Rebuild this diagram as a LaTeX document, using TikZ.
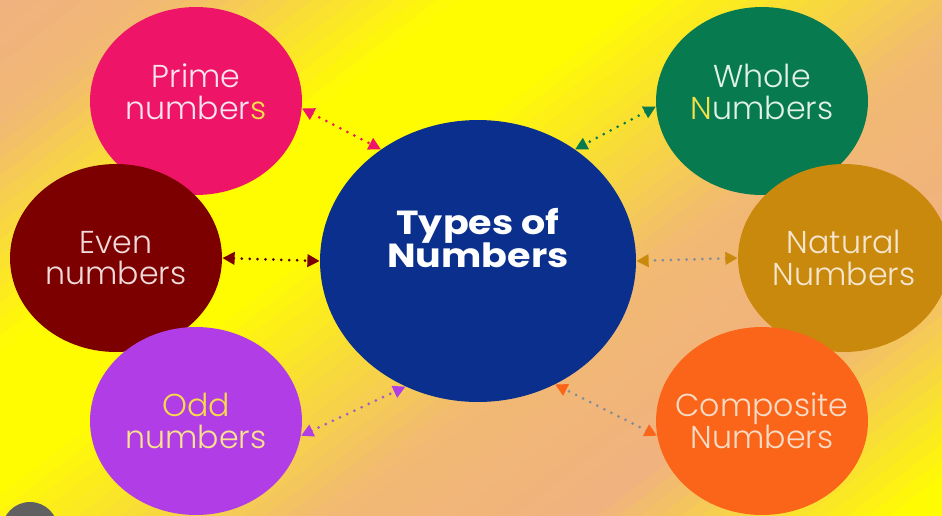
\documentclass[tikz,border=0pt]{standalone}
\usepackage[dvipsnames]{xcolor}
\usepackage{fontspec}
\setmainfont{Poppins}[UprightFont=* Light, BoldFont=* Bold]
\newfontfamily\hubfont{Poppins}[UprightFont=* Bold, FakeStretch=1.14]
\usetikzlibrary{shapes.geometric, arrows.meta}

\definecolor{peachc}{HTML}{F0B27F}
\definecolor{yellowc}{HTML}{FFFC02}
\definecolor{hubc}{HTML}{0B2F8C}
\definecolor{pinkc}{HTML}{EE1569}
\definecolor{maroonc}{HTML}{7D0000}
\definecolor{purplec}{HTML}{B03DE6}
\definecolor{greenc}{HTML}{077A4F}
\definecolor{goldc}{HTML}{C8890C}
\definecolor{orangec}{HTML}{FB6519}
\definecolor{slatec}{HTML}{7F8C9C}
\definecolor{primet}{HTML}{F7E6EE}
\definecolor{event}{HTML}{EFDCDA}
\definecolor{oddt}{HTML}{F9DC4A}
\definecolor{oddn}{HTML}{FCE38E}
\definecolor{wholet}{HTML}{E2F1E8}
\definecolor{naturalt}{HTML}{F7E6CF}
\definecolor{compt}{HTML}{F6DCC6}
\definecolor{yelt}{HTML}{F5E04A}

\newcommand{\tightlines}{\setlength{\lineskiplimit}{-50pt}}

\begin{document}
\begin{tikzpicture}[x=0.02cm, y=-0.02cm]
  \tikzset{bubble/.style={ellipse, minimum width=4.24cm, minimum height=3.76cm, inner sep=0pt},
           words/.style={align=center, font=\fontsize{18}{18}\selectfont},
           link/.style={line width=1.7pt, dash pattern=on 0pt off 4.5pt, line cap=round}}

  \useasboundingbox (0,0) rectangle (942,515);
  \begin{scope}
    \clip (0,0) rectangle (942,515);
    \foreach \i in {0, 1, ..., 80} {
      \pgfmathsetmacro{\fa}{\i*0.04}
      \pgfmathsetmacro{\fb}{\fa+0.046}
      \pgfmathtruncatemacro{\p}{\fa<0.3 ? 10*\fa/0.3 : (\fa<0.85 ? 10+90*(\fa-0.3)/0.55 : (\fa<1.2 ? 100 : (\fa<1.9 ? 100-90*(\fa-1.2)/0.7 : (\fa<2.4 ? 10-10*(\fa-1.9)/0.5 : min(100,100*(\fa-2.4)/0.6)))))}
      \fill [yellowc!\p!peachc] ({520*\fa},0) -- ({520*\fb},0) -- (0,{400*\fb}) -- (0,{400*\fa}) -- cycle;
    }
    \fill [gray!75!black] (30,530) circle (28);
  \end{scope}

  \node [bubble, fill=hubc, minimum width=6.32cm, minimum height=5.64cm,
         label={[words, text=white, font=\fontsize{19}{18.5}\hubfont\tightlines, yshift=0.46cm]center:{Types of\\Numbers}}] (hub) at (478,261) {};

  \node [bubble, fill=pinkc, label={[words, text=primet, yshift=0.18cm]center:{Prime\\number{\color{yelt}s}}}] (prime) at (196,101) {};
  \node [bubble, fill=maroonc, label={[words, text=event]center:{Even\\numbers}}] (even) at (116,258) {};
  \node [bubble, fill=purplec, label={[words, text=oddt]center:{Odd\\{\color{oddn}numbers}}}] (odd) at (196,421) {};

  \node [bubble, fill=greenc, label={[words, text=wholet, yshift=0.18cm]center:{Whole\\{\color{yelt}N}umbers}}] (whole) at (762,101) {};
  \node [bubble, fill=goldc, label={[words, text=naturalt]center:{Natural\\Numbers}}] (natural) at (844,258) {};
  \node [bubble, fill=orangec, label={[words, text=compt]center:{Composite\\Numbers}}] (composite) at (762,421) {};

  \foreach \from/\fromat/\hubat/\tipc/\dotc in {prime/-4/131/pinkc/pinkc, even/0/180/maroonc/maroonc!70!black,
      odd/-8/240/purplec/purplec!55!slatec, whole/183/49/greenc/greenc,
      natural/180/0/goldc/slatec, composite/188/-58/orangec/slatec} {
    \draw [link, draw=\dotc, {Triangle[length=7pt, width=7pt, color=\tipc]}-{Triangle[length=7pt, width=7pt, color=\tipc]}]
          (\from.\fromat) -- (hub.\hubat);
  }
\end{tikzpicture}
\end{document}
